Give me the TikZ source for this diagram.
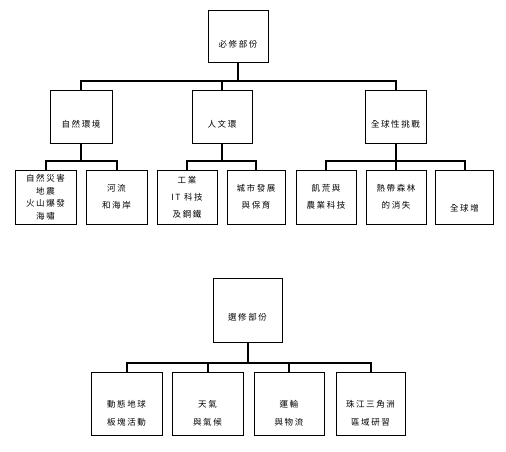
\documentclass[tikz,border=0pt]{standalone}
\usepackage{fontspec}
\newfontfamily\cjk[LetterSpace=18]{Noto Sans CJK TC}
\begin{document}
\begin{tikzpicture}[x=1pt, y=-1pt,
    every node/.style={font=\cjk\fontsize{8.5}{17}\selectfont, align=center},
    box/.style={draw, line width=0.8pt, inner sep=0pt},
    bus/.style={line width=2pt},
    lowtext/.style={label={[name=#1txt, yshift=-8pt]center:#1}}]
    \useasboundingbox (0,0) rectangle (506,452);
    % required part
    \node[box, minimum width=60pt, minimum height=52pt,
          label={[name=reqtxt, yshift=-8pt]center:必修部份}] (req) at (238,36) {};
    \node[box, minimum width=62pt, minimum height=53pt,
          label={[name=envtxt, yshift=-8pt]center:自然環境}] (env) at (81,116.5) {};
    \node[box, minimum width=60pt, minimum height=53pt,
          label={[name=humtxt, yshift=-8pt]center:人文環}] (hum) at (222,116.5) {};
    \node[box, minimum width=61pt, minimum height=53pt,
          label={[name=globtxt, yshift=-8pt]center:全球性挑戰}] (glob) at (395.5,116.5) {};
    \foreach \name/\x/\w/\txt in {riv/116.5/61/{河流\\和海岸}, ind/187/60/{工業\\IT 科技\\及鋼鐵},
        urb/256/58/{城市發展\\與保育}, food/326/60/{飢荒與\\農業科技}, rain/396/60/{熱帶森林\\的消失}} {
        \node[box, minimum width=\w pt, minimum height=54pt] (\name) at (\x,197) {\txt};
    }
    \node[box, minimum width=61pt, minimum height=54pt, font=\cjk\fontsize{8.5}{12.5}\selectfont]
        (haz) at (45.5,197) {自然災害\\地震\\火山爆發\\海嘯};
    \node[box, minimum width=58pt, minimum height=54pt,
          label={[name=warmtxt, yshift=-11pt]center:全球增}] (warm) at (464.5,197) {};
    \coordinate (reqbus) at (238,81);
    \coordinate (envbus) at (81,161);
    \coordinate (humbus) at (222,161);
    \coordinate (globbus) at (395.5,161);
    \draw[bus] (req.south) -- (reqbus);
    \draw[bus] (env.north) |- (reqbus) -| (glob.north);
    \draw[bus] (hum.north) -- (hum.north |- reqbus);
    \draw[bus] (env.south) -- (envbus);
    \draw[bus] (haz.north) |- (envbus) -| (riv.north);
    \draw[bus] (hum.south) -- (humbus);
    \draw[bus] (ind.north) |- (humbus) -| (urb.north);
    \draw[bus] (glob.south) -- (globbus);
    \draw[bus] (food.north) |- (globbus) -| (warm.north);
    \draw[bus] (rain.north) -- (rain.north |- globbus);
    % elective part
    \node[box, minimum width=69pt, minimum height=64pt,
          label={[name=electtxt, yshift=-7pt]center:選修部份}] (elect) at (247.5,310) {};
    \foreach \name/\x/\w/\txt in {dyn/126.5/71/{動態地球\\板塊活動}, clim/207.5/71/{天氣\\與氣候},
        trans/289/70/{運輸\\與物流}, prd/370.5/69/{珠江三角洲\\區域研習}} {
        \node[box, minimum width=\w pt, minimum height=63pt,
              label={[name=\name txt, yshift=-10pt, font=\cjk\fontsize{8.5}{18}\selectfont]center:\txt}]
            (\name) at (\x,403.5) {};
    }
    \coordinate (electbus) at (247.5,363);
    \draw[bus] (elect.south) -- (electbus);
    \draw[bus] (dyn.north) |- (electbus) -| (prd.north);
    \draw[bus] (clim.north) -- (clim.north |- electbus);
    \draw[bus] (trans.north) -- (trans.north |- electbus);
\end{tikzpicture}
\end{document}
